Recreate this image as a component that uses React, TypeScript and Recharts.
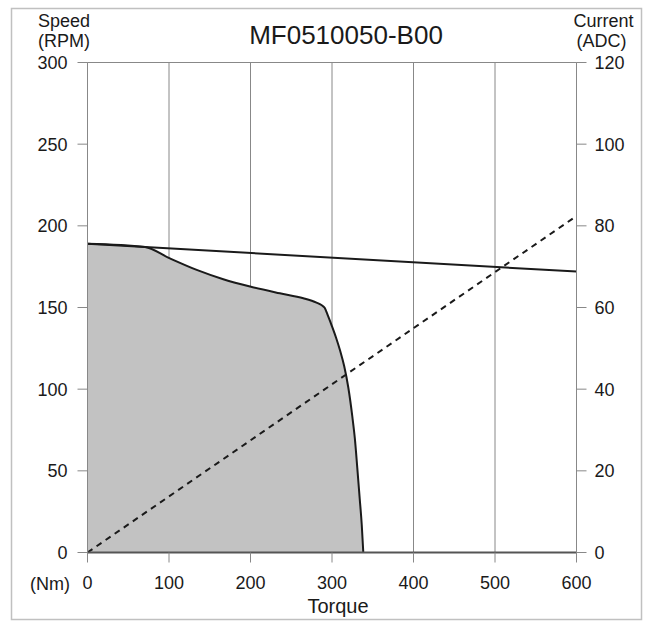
import { Area, ComposedChart, CartesianGrid, Line, XAxis, YAxis } from 'recharts';

const torqueTicks = [0, 100, 200, 300, 400, 500, 600];
const speedTicks = [0, 50, 100, 150, 200, 250, 300];
const currentTicks = [0, 20, 40, 60, 80, 100, 120];

// peak torque / speed envelope (shaded)
const peakTorque = [0, 70.6, 100.4, 134, 166.6, 199.4, 236, 264.8, 281, 287, 291, 295, 300, 305, 310, 315, 320, 325, 328, 331, 334, 336.5, 338.4];
const peakSpeed = [189, 187, 180.2, 173, 167.3, 162.8, 158.7, 155.7, 153, 151.5, 149.8, 145, 138.5, 131.5, 123.5, 114, 101, 83, 70, 52, 33, 17, 0];

// no-load speed line
const lineTorque = [0, 600];
const lineSpeed = [189, 172];

// current vs torque (dashed, right axis)
const currentTorque = [0, 600];
const currentValues = [0, 82.4];

const peakData = peakTorque.map((t, i) => ({ torque: t, speed: peakSpeed[i] }));
const speedLineData = lineTorque.map((t, i) => ({ torque: t, speed: lineSpeed[i] }));
const currentData = currentTorque.map((t, i) => ({ torque: t, current: currentValues[i] }));

const FONT = '"Liberation Sans", Arial, sans-serif';
const GRID = '#888888';
const tick = { fontSize: 18, fill: '#1a1a1a', fontFamily: FONT };

export default function App() {
  return (
    <div style={{ position: 'absolute', left: 0, top: 0, width: 649, height: 621, background: '#fff' }}>
      <ComposedChart width={649} height={621} margin={{ top: 62.5, right: 10, bottom: 18, left: 10 }}>
        <CartesianGrid stroke={GRID} strokeWidth={1} />
        <XAxis
          dataKey="torque"
          type="number"
          domain={[0, 600]}
          ticks={torqueTicks}
          height={50.5}
          tick={tick}
          tickSize={10}
          tickMargin={14}
          tickLine={{ stroke: GRID }}
          axisLine={{ stroke: '#555', strokeWidth: 2 }}
          allowDuplicatedCategory={false}
        />
        <YAxis
          yAxisId="speed"
          type="number"
          domain={[0, 300]}
          ticks={speedTicks}
          width={77.5}
          tick={tick}
          tickSize={10}
          tickMargin={10}
          tickLine={{ stroke: GRID }}
          axisLine={{ stroke: GRID }}
        />
        <YAxis
          yAxisId="current"
          orientation="right"
          type="number"
          domain={[0, 120]}
          ticks={currentTicks}
          width={62.5}
          tick={tick}
          tickSize={10}
          tickMargin={8}
          tickLine={{ stroke: GRID }}
          axisLine={{ stroke: GRID }}
        />
        <Area
          yAxisId="speed"
          data={peakData}
          dataKey="speed"
          type="monotone"
          stroke="#1a1a1a"
          strokeWidth={2}
          fill="#c2c2c2"
          fillOpacity={1}
          isAnimationActive={false}
        />
        <Line
          yAxisId="speed"
          data={speedLineData}
          dataKey="speed"
          type="linear"
          stroke="#1a1a1a"
          strokeWidth={2}
          dot={false}
          isAnimationActive={false}
        />
        <Line
          yAxisId="current"
          data={currentData}
          dataKey="current"
          type="linear"
          stroke="#1a1a1a"
          strokeWidth={2}
          strokeDasharray="6 5"
          dot={false}
          isAnimationActive={false}
        />
      </ComposedChart>
      <svg
        width={649}
        height={621}
        style={{ position: 'absolute', left: 0, top: 0, pointerEvents: 'none' }}
        fontFamily={FONT}
        fill="#1a1a1a"
      >
        <rect x={11.5} y={8.5} width={630} height={611} fill="none" stroke="#c0c0c0" strokeWidth={1.5} />
        <text x={346} y={44} fontSize={26} textAnchor="middle">MF0510050-B00</text>
        <text x={38} y={26.7} fontSize={18}>Speed</text>
        <text x={38} y={46.5} fontSize={18}>(RPM)</text>
        <text x={603.5} y={26.7} fontSize={18} textAnchor="middle">Current</text>
        <text x={601.5} y={46.5} fontSize={18} textAnchor="middle">(ADC)</text>
        <text x={30} y={590} fontSize={18}>(Nm)</text>
        <text x={338} y={613} fontSize={20} textAnchor="middle">Torque</text>
      </svg>
    </div>
  );
}
